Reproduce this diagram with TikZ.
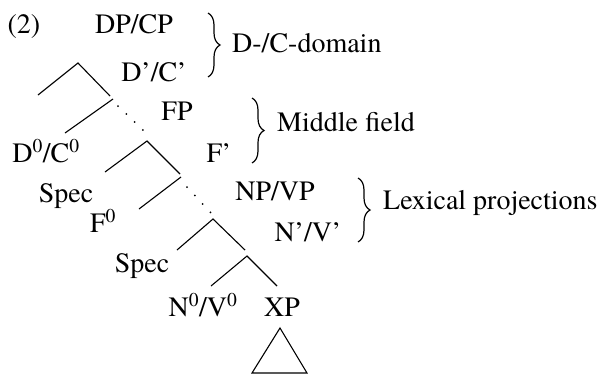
\documentclass[tikz,border=0pt]{standalone}
\usepackage{fontspec}
\setmainfont{texgyretermes}[Extension=.otf, UprightFont=*-regular, BoldFont=*-bold, ItalicFont=*-italic, BoldItalicFont=*-bolditalic]
\usetikzlibrary{decorations.pathreplacing}
\begin{document}
\begin{tikzpicture}[x=1pt,y=-1pt,
  lbl/.style={font=\fontsize{28}{30}\selectfont, inner sep=0pt, anchor=base},
  lblw/.style={lbl, anchor=base west},
  br/.style={decorate, decoration={brace, amplitude=12pt}, line width=1.2pt},
  edge/.style={line width=1.1pt},
  dotline/.style={line width=2pt, line cap=round, dash pattern=on 0pt off 11.5pt}]
\useasboundingbox (0,0) rectangle (601,375);
% labels
\node[lbl] (num) at (24,33) {(2)};
\node[lbl] (dpcp) at (134,33) {DP/CP};
\node[lbl] (dbar) at (154,81) {D’/C’};
\node[lblw] (dom1) at (232,52) {D-/C-domain};
\node[lbl] (fp) at (177,120) {FP};
\node[lblw] (dom2) at (277,131) {Middle field};
\node[lbl] (d0) at (46,162) {D\textsuperscript{0}/C\textsuperscript{0}};
\node[lbl] (fbar) at (219,162) {F’};
\node[lbl] (spec1) at (66,202) {Spec};
\node[lbl] (f0) at (103,232) {F\textsuperscript{0}};
\node[lbl] (npvp) at (275,200) {NP/VP};
\node[lbl] (nbar) at (308,241) {N’/V’};
\node[lblw] (dom3) at (383,209) {Lexical projections};
\node[lbl] (spec2) at (142,272) {Spec};
\node[lbl] (n0) at (203,316) {N\textsuperscript{0}/V\textsuperscript{0}};
\node[lbl] (xp) at (282,316) {XP};
% tree points
\coordinate (t1) at (78,63);  \coordinate (t1l) at (38,95);  \coordinate (t1r) at (110,96);
\coordinate (u1) at (113,99); \coordinate (u1l) at (65,133);
\coordinate (t2) at (147,141); \coordinate (t2l) at (105,172); \coordinate (t2r) at (180,174);
\coordinate (u2) at (181,177); \coordinate (u2l) at (139,209);
\coordinate (t3) at (213,219); \coordinate (t3l) at (177,250); \coordinate (t3r) at (245,250);
\coordinate (t4) at (247,256); \coordinate (t4l) at (211,286); \coordinate (t4r) at (277,286);
\coordinate (tri) at (280,328); \coordinate (tril) at (252,373); \coordinate (trir) at (307,373);
% branches
\draw[edge] (t1l) -- (t1) -- (t1r);
\draw[edge] (u1) -- (u1l);
\draw[dotline] (118,106) -- (145,132);
\draw[edge] (t2l) -- (t2) -- (t2r);
\draw[edge] (u2) -- (u2l);
\draw[dotline] (187,187) -- (211,213);
\draw[edge] (t3l) -- (t3) -- (t3r);
\draw[edge] (t4l) -- (t4) -- (t4r);
\draw[edge, line join=miter] (tril) -- (tri) -- (trir) -- cycle;
% braces
\draw[br] (208,13) -- (208,77);
\draw[br] (252,98) -- (252,163);
\draw[br] (358,178) -- (358,242);
\end{tikzpicture}
\end{document}
